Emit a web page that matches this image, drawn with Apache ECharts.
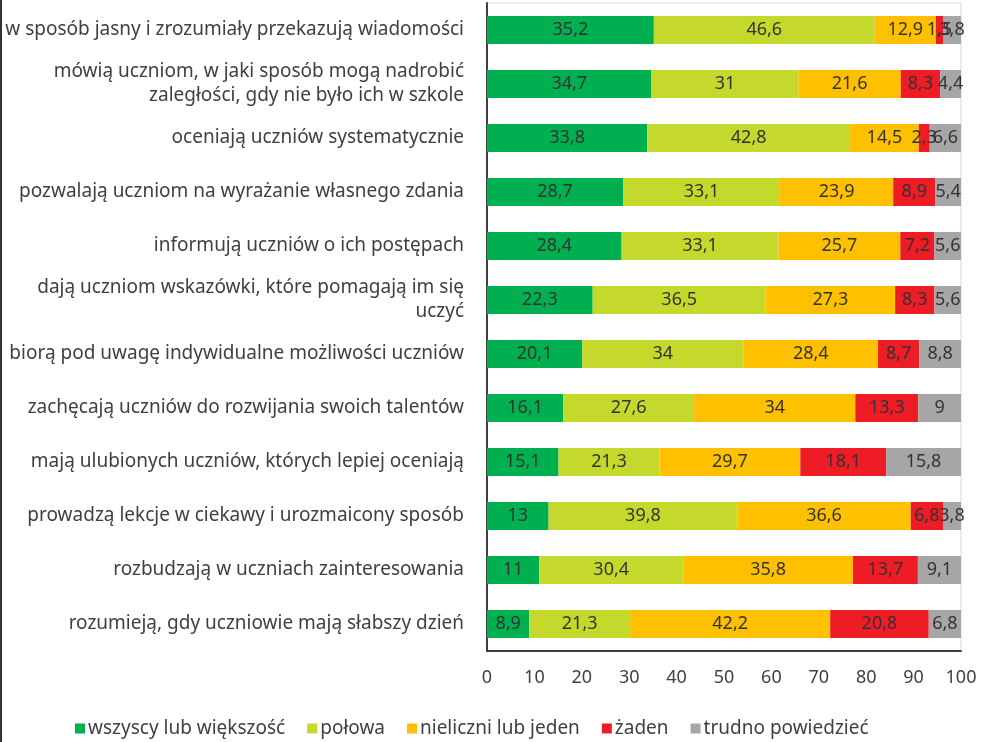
<!DOCTYPE html>
<html><head><meta charset="utf-8">
<script src="https://cdn.jsdelivr.net/npm/echarts@6/dist/echarts.min.js"></script>
<style>html,body{margin:0;padding:0;background:#fff}#c{width:981px;height:742px}</style>
</head><body><div id="c"></div>
<script>
const categories = [
  "w sposób jasny i zrozumiały przekazują wiadomości",
  "mówią uczniom, w jaki sposób mogą nadrobić\nzaległości, gdy nie było ich w szkole",
  "oceniają uczniów systematycznie",
  "pozwalają uczniom na wyrażanie własnego zdania",
  "informują uczniów o ich postępach",
  "dają uczniom wskazówki, które pomagają im się\nuczyć",
  "biorą pod uwagę indywidualne możliwości uczniów",
  "zachęcają uczniów do rozwijania swoich talentów",
  "mają ulubionych uczniów, których lepiej oceniają",
  "prowadzą lekcje w ciekawy i urozmaicony sposób",
  "rozbudzają w uczniach zainteresowania",
  "rozumieją, gdy uczniowie mają słabszy dzień"
];
const seriesNames = ["wszyscy lub większość","połowa","nieliczni lub jeden","żaden","trudno powiedzieć"];
const wszyscy   = [35.2,34.7,33.8,28.7,28.4,22.3,20.1,16.1,15.1,13,11,8.9];
const polowa    = [46.6,31,42.8,33.1,33.1,36.5,34,27.6,21.3,39.8,30.4,21.3];
const nieliczni = [12.9,21.6,14.5,23.9,25.7,27.3,28.4,34,29.7,36.6,35.8,42.2];
const zaden     = [1.5,8.3,2.3,8.9,7.2,8.3,8.7,13.3,18.1,6.8,13.7,20.8];
const trudno    = [3.8,4.4,6.6,5.4,5.6,5.6,8.8,9,15.8,3.8,9.1,6.8];
const xTicks = [0,10,20,30,40,50,60,70,80,90,100];

const colors = ["#00b050","#c5d92d","#ffc000","#ee1c25","#a6a6a6"];
const dataArr = [wszyscy,polowa,nieliczni,zaden,trudno];
const chart = echarts.init(document.getElementById('c'));
const fontFam = "'Noto Sans', sans-serif";
chart.setOption({
  animation:false,
  color: colors,
  grid:{left:487,right:20,top:3,bottom:91,show:true,borderColor:'#d9d9d9',borderWidth:1},
  legend:{top:714,left:70,itemWidth:10,itemHeight:10,itemGap:22,icon:'rect',
    textStyle:{color:'#404040',fontSize:19,fontFamily:fontFam,padding:[0,0,0,-2]},data:seriesNames},
  xAxis:{type:'value',min:0,max:100,interval:10,
    axisLine:{show:true,lineStyle:{color:'#404040',width:2}},axisTick:{show:false},splitLine:{show:false},
    axisLabel:{color:'#404040',fontSize:18,fontFamily:fontFam,margin:18,
      formatter:v=>xTicks.includes(v)?String(v):''}},
  yAxis:{type:'category',inverse:true,data:categories,
    axisLine:{show:true,lineStyle:{color:'#404040',width:2}},axisTick:{show:false},
    axisLabel:{color:'#404040',fontSize:19,fontFamily:fontFam,margin:23,align:'right',lineHeight:24}},
  series: seriesNames.map((n,i)=>({
    name:n,type:'bar',stack:'s',barCategoryGap:'48%',data:dataArr[i],
    label:{show:true,position:'inside',color:'#333',fontSize:18,fontFamily:fontFam,
      formatter:p=>String(p.value).replace('.',',')}
  })),
  graphic:[{type:'line',shape:{x1:1,y1:0,x2:1,y2:742},style:{stroke:'#333',lineWidth:2}}]
});
</script></body></html>
